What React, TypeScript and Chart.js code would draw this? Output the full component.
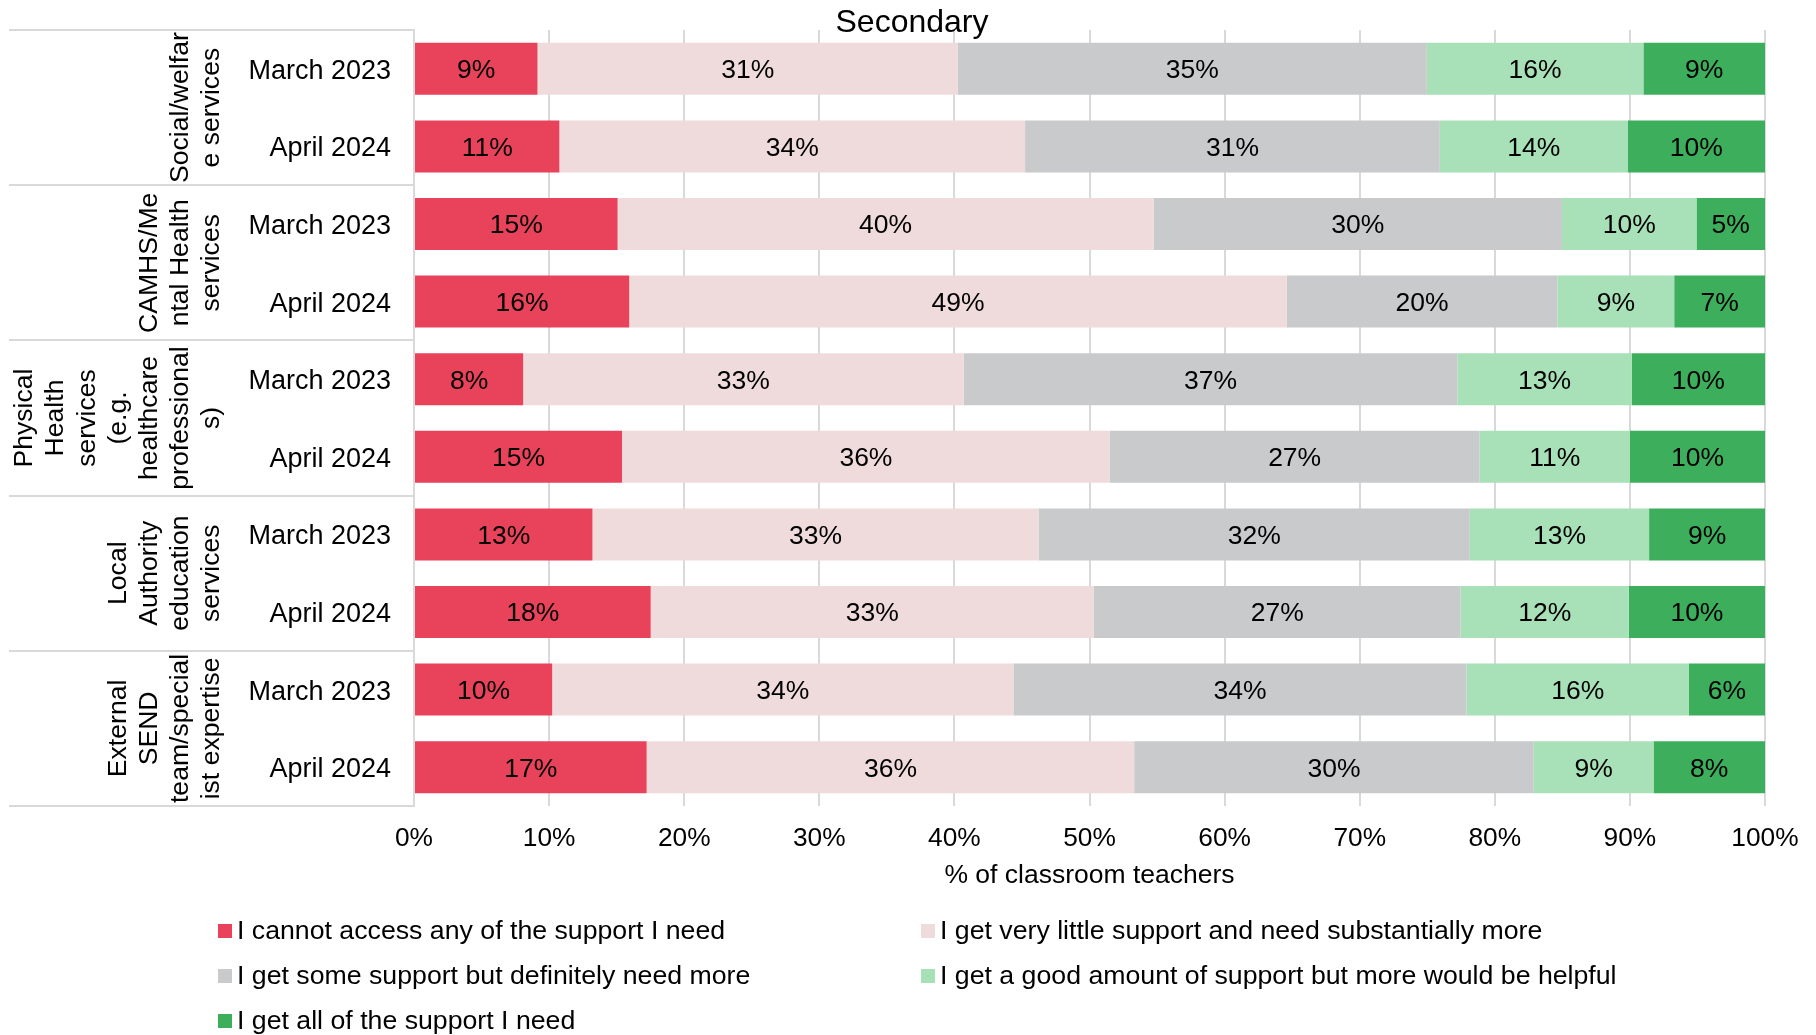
import React, { useEffect, useRef } from "react";
import { Chart, registerables } from "chart.js";

Chart.register(...registerables);

const chartTitle = "Secondary";
const xAxisTitle = "% of classroom teachers";
const periods = ["March 2023", "April 2024"];
const groupLabels: string[][] = [
  ["Social/welfar", "e services"],
  ["CAMHS/Me", "ntal Health", "services"],
  ["Physical", "Health", "services", "(e.g.", "healthcare", "professional", "s)"],
  ["Local", "Authority", "education", "services"],
  ["External", "SEND", "team/special", "ist expertise"],
];
const seriesNames = [
  "I cannot access any of the support I need",
  "I get very little support and need substantially more",
  "I get some support but definitely need more",
  "I get a good amount of support but more would be helpful",
  "I get all of the support I need",
];
const seriesColors = ["#E8435A", "#F0DBDC", "#C9CACC", "#A8E0B7", "#3DAE5C"];

// rows: Social Mar23, Social Apr24, CAMHS Mar23, CAMHS Apr24, Physical Mar23, Physical Apr24,
// Local Mar23, Local Apr24, External Mar23, External Apr24
const cannotAccess = [9.14, 10.76, 15.07, 15.93, 8.08, 15.4, 13.21, 17.52, 10.23, 17.22];
const veryLittle = [31.12, 34.47, 39.67, 48.67, 32.6, 36.1, 33.02, 32.8, 34.14, 36.09];
const someSupport = [34.71, 30.7, 30.23, 20.04, 36.55, 27.37, 31.92, 27.15, 33.54, 29.57];
const goodAmount = [16.03, 13.9, 9.96, 8.64, 12.9, 11.13, 13.27, 12.45, 16.46, 8.87];
const allSupport = [9.0, 10.17, 5.07, 6.72, 9.87, 10.0, 8.58, 10.08, 5.63, 8.25];

const xTicks = [0, 10, 20, 30, 40, 50, 60, 70, 80, 90, 100];

const FONT = "'Liberation Sans', Arial, sans-serif";
const GRID = "#D9D9D9";

export default function App() {
  const ref = useRef<HTMLCanvasElement | null>(null);

  useEffect(() => {
    const canvas = ref.current;
    if (!canvas) return;
    const categories: string[] = [];
    groupLabels.forEach(() => periods.forEach((p) => categories.push(p)));
    const series = [cannotAccess, veryLittle, someSupport, goodAmount, allSupport];

    const customPlugin = {
      id: "custom",
      afterDatasetsDraw(chart: any) {
        const ctx = chart.ctx;
        ctx.save();
        ctx.font = `26.5px ${FONT}`;
        ctx.fillStyle = "#000";
        ctx.textAlign = "center";
        ctx.textBaseline = "middle";
        chart.data.datasets.forEach((ds: any, i: number) => {
          const meta = chart.getDatasetMeta(i);
          meta.data.forEach((bar: any, j: number) => {
            const v = ds.data[j];
            const p = bar.getCenterPoint();
            ctx.fillText(Math.round(v) + "%", p.x, p.y + 2);
          });
        });
        ctx.restore();
      },
      afterDraw(chart: any) {
        const ctx = chart.ctx;
        const area = chart.chartArea;
        const yScale = chart.scales.y;
        const n = categories.length;
        const step = (yScale.bottom - yScale.top) / n;
        ctx.save();
        // title
        ctx.font = `32px ${FONT}`;
        ctx.fillStyle = "#000";
        ctx.textAlign = "center";
        ctx.textBaseline = "middle";
        ctx.fillText(chartTitle, 912, 23);
        // group separator lines
        ctx.strokeStyle = GRID;
        ctx.lineWidth = 2;
        for (let g = 0; g <= groupLabels.length; g++) {
          const y = Math.round(yScale.top + g * 2 * step);
          ctx.beginPath();
          ctx.moveTo(9, y);
          ctx.lineTo(area.left, y);
          ctx.stroke();
        }
        // group labels (rotated)
        ctx.font = `26.6px ${FONT}`;
        ctx.fillStyle = "#000";
        groupLabels.forEach((lines, g) => {
          const cy = yScale.top + (2 * g + 1) * step;
          lines.forEach((line, i) => {
            const x = 212 - (lines.length - 1 - i) * 31.2;
            ctx.save();
            ctx.translate(x, cy);
            ctx.rotate(-Math.PI / 2);
            ctx.textAlign = "center";
            ctx.textBaseline = "middle";
            ctx.fillText(line, 0, 0);
            ctx.restore();
          });
        });
        // legend
        const cols = [218, 921];
        const rows = [931, 976, 1021];
        ctx.font = `26.7px ${FONT}`;
        ctx.textAlign = "left";
        ctx.textBaseline = "middle";
        chart.data.datasets.forEach((ds: any, i: number) => {
          const cx = cols[i % 2];
          const ry = rows[Math.floor(i / 2)];
          ctx.fillStyle = ds.backgroundColor;
          ctx.fillRect(cx, ry - 7, 14, 14);
          ctx.fillStyle = "#000";
          ctx.fillText(ds.label, cx + 19, ry + 1);
        });
        ctx.restore();
      },
    };

    const chart = new Chart(canvas, {
      type: "bar",
      data: {
        labels: categories,
        datasets: series.map((d, i) => ({
          label: seriesNames[i],
          data: d,
          backgroundColor: seriesColors[i],
          borderWidth: 0,
          categoryPercentage: 1,
          barPercentage: 0.67,
        })),
      },
      options: {
        indexAxis: "y",
        responsive: false,
        animation: false,
        devicePixelRatio: 1,
        layout: { padding: { top: 30, left: 0, right: 51, bottom: 129 } },
        plugins: {
          legend: { display: false },
          title: { display: false },
          tooltip: { enabled: false },
        },
        scales: {
          x: {
            type: "linear",
            stacked: true,
            min: 0,
            max: 100,
            afterBuildTicks: (scale: any) => {
              scale.ticks = xTicks.map((v) => ({ value: v }));
            },
            afterFit: (scale: any) => {
              scale.height = 100;
            },
            ticks: {
              callback: (v: any) => v + "%",
              font: { family: FONT, size: 26.3 },
              color: "#000",
              padding: 17,
              maxRotation: 0,
              autoSkip: false,
            },
            grid: { color: GRID, lineWidth: 2, drawTicks: false },
            border: { display: false },
            title: {
              display: true,
              text: xAxisTitle,
              font: { family: FONT, size: 26.5 },
              color: "#000",
              padding: { top: 0, bottom: 14 },
            },
          },
          y: {
            type: "category",
            stacked: true,
            afterFit: (scale: any) => {
              scale.width = 414;
              scale.paddingTop = 0;
              scale.paddingBottom = 0;
            },
            ticks: {
              font: { family: FONT, size: 27 },
              color: "#000",
              padding: 23,
              labelOffset: 2.5,
              autoSkip: false,
            },
            grid: { display: false, drawTicks: false },
            border: { display: true, color: GRID, width: 2 },
          },
        },
      },
      plugins: [customPlugin],
    } as any);

    return () => chart.destroy();
  }, []);

  return (
    <div style={{ position: "absolute", left: 0, top: 0, width: 1816, height: 1035, background: "#fff" }}>
      <canvas ref={ref} width={1816} height={1035} style={{ display: "block", width: 1816, height: 1035 }} />
    </div>
  );
}
